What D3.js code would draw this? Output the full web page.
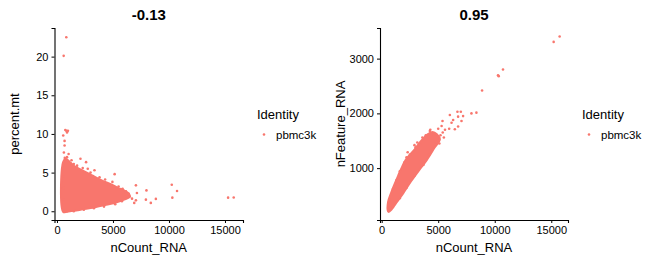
<!DOCTYPE html>
<html>
<head>
<meta charset="utf-8">
<script src="https://cdn.jsdelivr.net/npm/d3@7"></script>
<style>
  body { margin: 0; background: #fff; }
  text { font-family: "Liberation Sans", Arial, sans-serif; }
</style>
</head>
<body>
<div id="chart"></div>
<script>
// panel titles (correlation) and axis names
var titles = ["-0.13", "0.95"];
var xName = "nCount_RNA";
var yNames = ["percent.mt", "nFeature_RNA"];
var legendTitle = "Identity";
var legendLabel = "pbmc3k";
var dotColor = "#F8766D";

var xTicks = [0, 5000, 10000, 15000];
var yTicksLeft = [0, 5, 10, 15, 20];
var yTicksRight = [1000, 2000, 3000];

// outline of the dense cloud (nCount, percent.mt)
var leftCloud = [
  [560, -0.1], [560, 6.4], [800, 6.8], [1200, 6.3], [1700, 5.7], [2400, 5.2],
  [3200, 4.6], [4000, 4.0], [4800, 3.5], [5500, 3.0], [6000, 2.7], [6400, 2.3],
  [6500, 1.9], [6000, 1.5], [5200, 1.1], [4300, 0.8], [3300, 0.5], [2300, 0.25],
  [1500, 0.05], [900, -0.05]
];
// single cells outside / on the edge of the cloud
var leftDots = [
  [835, 22.5], [600, 20.1], [745, 10.5], [980, 10.4], [900, 10.2], [560, 9.8],
  [835, 10.4], [680, 9.1], [680, 8.5], [620, 7.6], [1040, 7.4], [2100, 6.8],
  [2600, 6.35], [2750, 5.5], [3350, 5.3], [5150, 4.8], [4950, 3.8], [5860, 2.9],
  [6160, 2.57], [6400, 2.27], [6700, 1.63], [7050, 3.35], [7140, 2.36], [7990, 2.7],
  [10250, 3.43], [10720, 2.62], [10300, 1.76], [7940, 1.5], [8380, 1.08], [8830, 1.6],
  [7050, 1.41], [6900, 1.08], [15280, 1.76], [15780, 1.78],
  [1300, 6.6], [1500, 6.1], [1800, 5.9], [2300, 5.6], [3000, 5.0], [3800, 4.4],
  [4300, 4.1], [4600, 3.5], [5500, 3.2], [6000, 2.2], [6500, 1.9], [5800, 1.3],
  [5200, 0.9], [4200, 0.6], [3300, 0.4], [2400, 0.2], [1500, 0.0], [900, 0.0],
  [560, 0.1], [560, 1.5], [560, 3], [560, 4.5], [560, 6], [700, 6.9], [900, 7.0]
];

// outline of the dense band (nCount, nFeature)
var rightCloud = [
  [560, 210], [560, 380], [850, 560], [1100, 690], [1450, 860], [1750, 1000],
  [2150, 1160], [2900, 1340], [3500, 1500], [4090, 1620], [4500, 1660], [4880, 1620],
  [5150, 1527], [4700, 1380], [4000, 1150], [3300, 960], [2600, 760], [1900, 540],
  [1300, 370], [850, 240], [620, 200]
];
var rightDots = [
  [15740, 3405], [15210, 3305], [10730, 2800], [10290, 2696], [10350, 2680], [8880, 2418],
  [7940, 2000], [8380, 2013], [7000, 2030], [6700, 2030], [7200, 1950], [6760, 1940],
  [6030, 1970], [6320, 1880], [7060, 1860], [5380, 1860], [6180, 1830], [6760, 1760],
  [4260, 1680], [3380, 1436], [3150, 1467], [5970, 1720], [6470, 1710], [5300, 1770],
  [5600, 1700], [5000, 1720],
  [3900, 1600], [4300, 1700], [4600, 1620], [5200, 1600], [5400, 1650], [3600, 1560],
  [4800, 1480], [5500, 1560], [2900, 1420], [2300, 1290],
  [700, 420], [1000, 620], [1300, 780], [1600, 940], [2000, 1100], [2500, 1250],
  [3000, 1380], [2200, 1200], [4200, 1250], [3700, 1060], [2900, 860],
  [2200, 640], [1600, 450], [1000, 290], [5100, 1450]
];

var svg = d3.select("#chart").append("svg")
  .attr("width", 650)
  .attr("height", 262);

function panel(opt) {
  var x = d3.scaleLinear().domain(opt.xDomain).range([opt.left, opt.right]);
  var y = d3.scaleLinear().domain(opt.yDomain).range([opt.bottom, opt.top]);
  var g = svg.append("g");

  // clouds and dots
  g.append("path")
    .datum(opt.cloud)
    .attr("d", d3.line().x(d => x(d[0])).y(d => y(d[1])).curve(d3.curveCatmullRomClosed))
    .attr("fill", dotColor)
    .attr("stroke", dotColor)
    .attr("stroke-width", 2);

  g.selectAll("circle.dot")
    .data(opt.dots)
    .enter()
    .append("circle")
    .attr("class", "dot")
    .attr("cx", d => x(d[0]))
    .attr("cy", d => y(d[1]))
    .attr("r", 1.3)
    .attr("fill", dotColor);

  // axes
  var xAxis = g.append("g")
    .attr("transform", `translate(0, ${opt.bottom})`)
    .call(d3.axisBottom(x).tickValues(xTicks).tickSize(3).tickPadding(3).tickFormat(d3.format("d")));
  var yAxis = g.append("g")
    .attr("transform", `translate(${opt.left}, 0)`)
    .call(d3.axisLeft(y).tickValues(opt.yTicks).tickSize(3).tickPadding(3).tickFormat(d3.format("d")));

  [xAxis, yAxis].forEach(function(a) {
    a.select(".domain").attr("stroke", "#000").attr("stroke-width", 1.1);
    a.selectAll(".tick line").attr("stroke", "#000");
    a.selectAll(".tick text")
      .attr("fill", "#000")
      .style("font-family", "'Liberation Sans', Arial, sans-serif")
      .style("font-size", "11px");
  });

  // titles
  g.append("text")
    .attr("x", (opt.left + opt.right) / 2)
    .attr("y", 19.5)
    .attr("text-anchor", "middle")
    .style("font-size", "15px")
    .style("font-weight", "bold")
    .text(opt.title);

  g.append("text")
    .attr("x", (opt.left + opt.right) / 2)
    .attr("y", 252)
    .attr("text-anchor", "middle")
    .style("font-size", "13px")
    .text(xName);

  g.append("text")
    .attr("transform", `translate(${opt.yLabelX}, ${(opt.top + opt.bottom) / 2}) rotate(-90)`)
    .attr("text-anchor", "middle")
    .style("font-size", "13px")
    .text(opt.yName);

  // legend
  g.append("text")
    .attr("x", opt.legendX)
    .attr("y", 119)
    .style("font-size", "13px")
    .text(legendTitle);
  g.append("circle")
    .attr("cx", opt.legendX + 7)
    .attr("cy", 134.5)
    .attr("r", 1.3)
    .attr("fill", dotColor);
  g.append("text")
    .attr("x", opt.legendX + 19)
    .attr("y", 139)
    .style("font-size", "11.5px")
    .text(legendLabel);
}

panel({
  left: 54.5, right: 243, top: 28, bottom: 220,
  xDomain: [-219, 16609], yDomain: [-1.13, 23.7],
  yTicks: yTicksLeft, cloud: leftCloud, dots: leftDots,
  title: titles[0], yName: yNames[0], yLabelX: 19, legendX: 257
});

panel({
  left: 380, right: 568, top: 28, bottom: 220,
  xDomain: [-149, 16479], yDomain: [53, 3559],
  yTicks: yTicksRight, cloud: rightCloud, dots: rightDots,
  title: titles[1], yName: yNames[1], yLabelX: 345, legendX: 582
});
</script>
</body>
</html>
